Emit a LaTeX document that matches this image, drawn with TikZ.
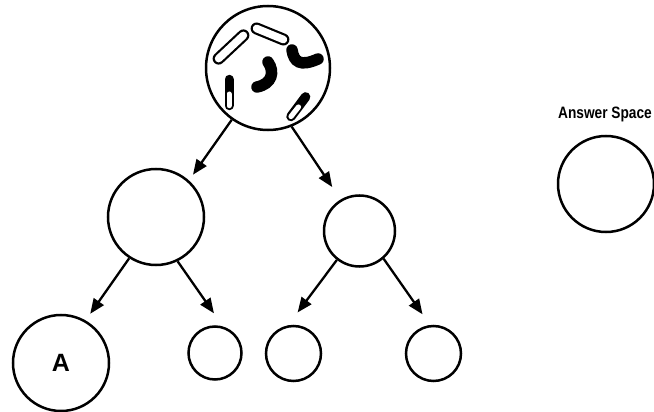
\documentclass[tikz,border=0pt]{standalone}
\usepackage{fontspec}
\setmainfont{Liberation Sans}
\usetikzlibrary{arrows.meta}
\begin{document}
\begin{tikzpicture}[x=1pt,y=-1pt,
  circ/.style={draw=black, circle, line width=2.5pt, inner sep=0pt},
  arr/.style={line width=2.3pt, -{Triangle[length=15pt,width=12pt]}},
  cellout/.style={line width=12pt, line cap=round},
  cellin/.style={white, line width=7.6pt, line cap=round},
  blob/.style={line width=11.5pt, line cap=round}]
\useasboundingbox[fill=white] (0,0) rectangle (654,412);
% circles
\node[circ, minimum size=124pt] (top) at (268,68) {};
\node[circ, minimum size=96pt] (midL) at (156,217) {};
\node[circ, minimum size=71pt] (midR) at (359.5,231) {};
\node[circ, minimum size=96pt, font=\bfseries\fontsize{25}{25}\selectfont] (A) at (61,363) {A};
\node[circ, minimum size=53pt] (s1) at (215,353) {};
\node[circ, minimum size=55pt] (s2) at (293.5,353.5) {};
\node[circ, minimum size=55pt] (s3) at (433.5,353.5) {};
\node[circ, minimum size=96pt] (ans) at (606,184) {};
\node[anchor=base west, inner sep=0pt, font=\bfseries\fontsize{16.5}{16.5}\selectfont] (lbl) at (558,118) {\scalebox{0.83}[1]{Answer Space}};
% bacteria in the top circle
\draw[cellout] (218.6,58.6) -- (243.4,35.4);
\draw[cellin] (218.6,58.6) -- (243.4,35.4);
\draw[cellout] (256.6,28.5) -- (283.4,39.5);
\draw[cellin] (256.6,28.5) -- (283.4,39.5);
\draw[line width=9pt, line cap=round] (229,79.3) -- (229,105.7);
\draw[white, line width=5pt, line cap=round] (229,94) -- (229,105.7);
\draw[line width=9.5pt, line cap=round] (305.6,96.9) -- (291,116.5);
\draw[white, line width=5.2pt, line cap=round] (298.5,107) -- (291,116.5);
\draw[blob] (292,50) .. controls (294,62) and (300,67) .. (318,59);
\draw[blob] (268,62) .. controls (275,72) and (272,84) .. (257,87);
% arrows
\draw[arr, shorten >=7pt] (top.235) -- (midL.48.6);
\draw[arr, shorten >=15pt] (top.292) -- (midR.121.4);
\draw[arr, shorten >=8pt] (midL.237.5) -- (A.60.9);
\draw[arr, shorten >=16pt] (midL.296) -- (s1.73.4);
\draw[arr, shorten >=16pt] (midR.232) -- (s2.101.5);
\draw[arr, shorten >=13pt] (midR.311) -- (s3.97.4);
\end{tikzpicture}
\end{document}
